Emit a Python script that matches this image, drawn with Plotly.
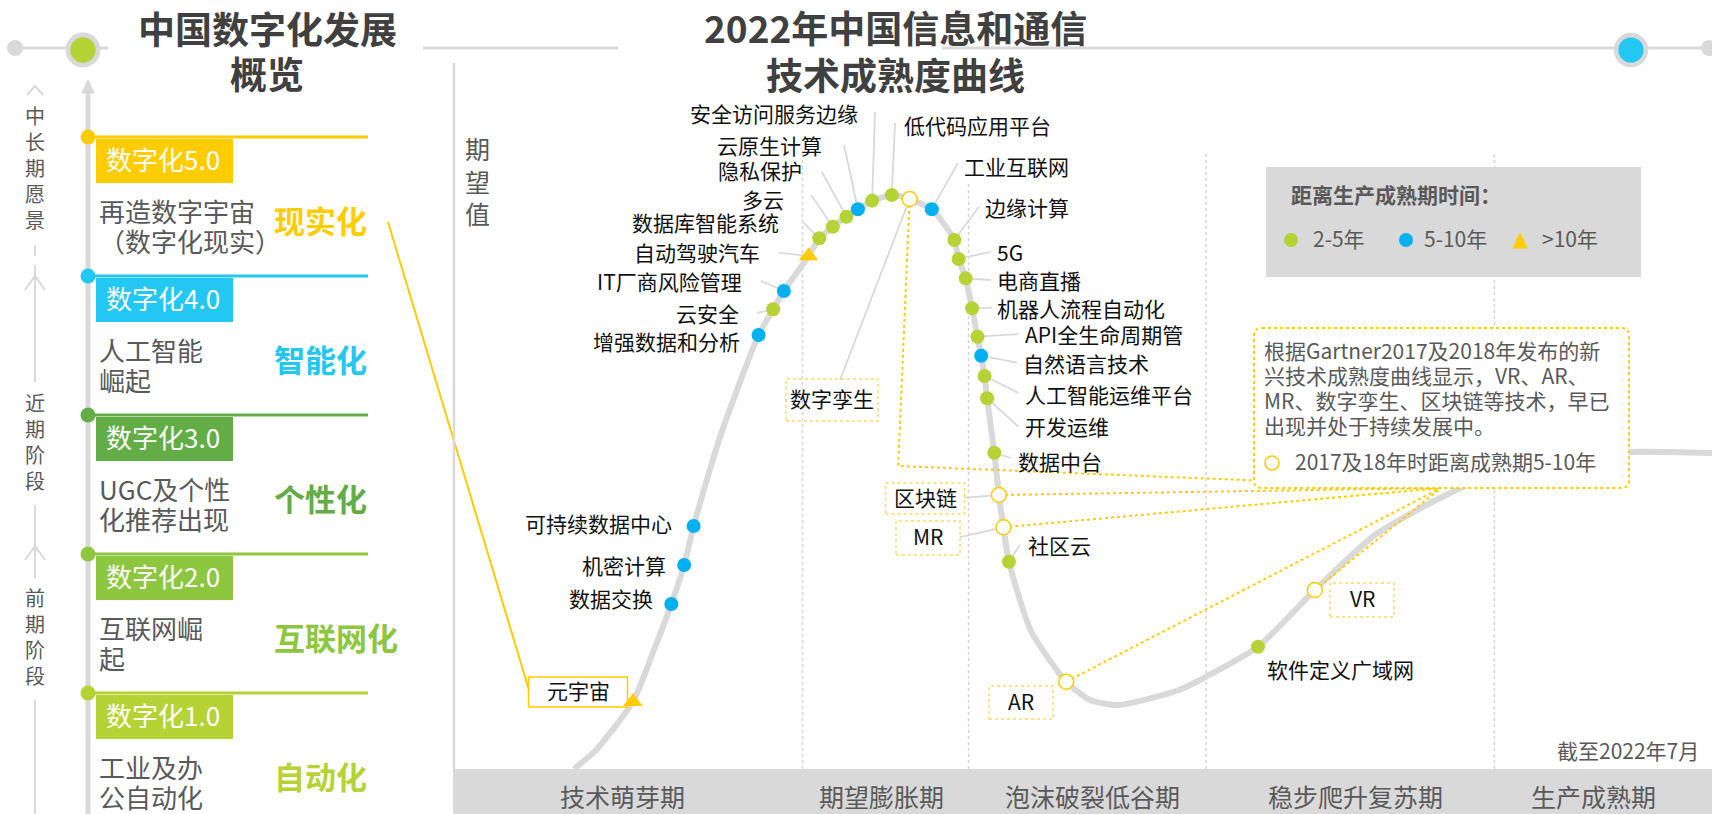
import plotly.graph_objects as go

W, H = 1712, 814
FONT = "Noto Sans CJK SC, Microsoft YaHei, sans-serif"
GRAY = "#d9d9d9"
TXT = "#595959"
DARK = "#111111"
YEL = "#ffcc00"

# ---------------- data ----------------
# Hype-cycle curve: x = time to maturity axis (0-100), y = expectation (0-100)
curve_x = [9.61, 11.36, 14.29, 15.81, 17.34, 18.36, 19.11, 21.21, 24.27, 25.43, 26.28, 28.24,
           29.09, 30.17, 31.25, 32.16, 33.29, 34.85, 36.27, 38.03, 39.82, 40.16, 40.72, 41.23,
           41.66, 41.95, 42.22, 42.42, 42.99, 43.36, 43.72, 44.16, 45.91, 48.71, 50.60, 52.87,
           57.66, 59.33, 63.94, 68.45, 73.23, 78.08, 82.37, 87.93, 93.41, 100.0]
curve_y = [0.0, 2.69, 9.53, 16.15, 23.37, 28.90, 34.42, 47.03, 61.47, 65.11, 67.71, 72.66,
           75.17, 76.81, 78.23, 79.28, 80.50, 81.30, 80.74, 79.28, 74.93, 72.24, 69.50, 65.25,
           61.23, 58.54, 55.67, 52.51, 44.80, 38.81, 34.24, 29.36, 19.55, 12.37, 9.77, 9.07,
           11.19, 12.61, 17.32, 25.35, 33.14, 38.10, 41.64, 44.05, 44.90, 44.76]

tech_names = ["元宇宙", "数据交换", "机密计算", "可持续数据中心", "增强数据和分析", "云安全",
              "IT厂商风险管理", "自动驾驶汽车", "数据库智能系统", "多云", "隐私保护", "云原生计算",
              "安全访问服务边缘", "低代码应用平台", "数字孪生", "工业互联网", "边缘计算", "5G",
              "电商直播", "机器人流程自动化", "API全生命周期管", "自然语言技术", "人工智能运维平台",
              "开发运维", "数据中台", "区块链", "MR", "社区云", "AR", "软件定义广域网", "VR"]
tech_x = [14.29, 17.34, 18.36, 19.11, 24.27, 25.43, 26.28, 28.24, 29.09, 30.17, 31.25, 32.16,
          33.29, 34.85, 36.27, 38.03, 39.82, 40.16, 40.72, 41.23, 41.66, 41.95, 42.22, 42.42,
          42.99, 43.36, 43.72, 44.16, 48.71, 63.94, 68.45]
tech_y = [9.53, 23.37, 28.90, 34.42, 61.47, 65.11, 67.71, 72.66, 75.17, 76.81, 78.23, 79.28,
          80.50, 81.30, 80.74, 79.28, 74.93, 72.24, 69.50, 65.25, 61.23, 58.54, 55.67, 52.51,
          44.80, 38.81, 34.24, 29.36, 12.37, 17.32, 25.35]
tech_cat = [">10年", "5-10年", "5-10年", "5-10年", "5-10年", "2-5年",
            "5-10年", ">10年", "2-5年", "2-5年", "2-5年", "5-10年",
            "2-5年", "2-5年", "2017/18", "5-10年", "2-5年", "2-5年",
            "2-5年", "2-5年", "2-5年", "5-10年", "2-5年",
            "2-5年", "2-5年", "2017/18", "2017/18", "2-5年", "2017/18", "2-5年", "2017/18"]

phase_names = ["技术萌芽期", "期望膨胀期", "泡沫破裂低谷期", "稳步爬升复苏期", "生产成熟期"]
phase_bounds = [27.76, 40.95, 59.81, 82.72]
phase_label_x = [13.5, 34.0, 50.83, 71.72, 90.55]

stage_names = ["数字化5.0", "数字化4.0", "数字化3.0", "数字化2.0", "数字化1.0"]
stage_desc = [["再造数字宇宙", "（数字化现实）"], ["人工智能", "崛起"], ["UGC及个性", "化推荐出现"],
              ["互联网崛", "起"], ["工业及办", "公自动化"]]
stage_tags = ["现实化", "智能化", "个性化", "互联网化", "自动化"]
stage_colors = ["#ffcc00", "#22c7f2", "#63ad46", "#8dc63f", "#b5d334"]

note_lines = ["根据Gartner2017及2018年发布的新", "兴技术成熟度曲线显示，VR、AR、",
              "MR、数字孪生、区块链等技术，早已", "出现并处于持续发展中。"]

# ---------------- label layout ----------------
LBL = {
    "元宇宙": dict(x=9.93, y=10.91, a="center", box=(99, 30, "solid")),
    "数据交换": dict(x=16.04, y=23.94, a="right"),
    "机密计算": dict(x=17.05, y=28.61, a="right"),
    "可持续数据中心": dict(x=17.59, y=34.56, a="right"),
    "增强数据和分析": dict(x=22.99, y=60.34, a="right"),
    "云安全": dict(x=22.85, y=64.31, a="right", lead=(24.15, 64.59)),
    "IT厂商风险管理": dict(x=23.08, y=68.84, a="right", lead=(24.44, 69.16)),
    "自动驾驶汽车": dict(x=24.54, y=72.95, a="right", lead=(25.89, 73.13)),
    "数据库智能系统": dict(x=26.05, y=77.20, a="right", lead=(27.76, 77.52)),
    "多云": dict(x=26.48, y=80.45, a="right", lead=(28.44, 81.30)),
    "隐私保护": dict(x=27.88, y=84.60, a="right", lead=(29.29, 84.60)),
    "云原生计算": dict(x=29.47, y=88.14, a="right", lead=(31.06, 88.39)),
    "安全访问服务边缘": dict(x=32.33, y=92.63, a="right", lead=(33.52, 93.06)),
    "低代码应用平台": dict(x=35.66, y=90.93, a="left", lead=(35.11, 91.50)),
    "数字孪生": dict(x=30.10, y=52.27, a="center", box=(92, 42, "dot"), lead=(30.74, 55.10)),
    "工业互联网": dict(x=40.43, y=85.13, a="left", lead=(40.11, 85.84)),
    "边缘计算": dict(x=42.10, y=79.32, a="left", lead=(41.78, 79.65)),
    "5G": dict(x=43.08, y=72.95, a="left", lead=(42.71, 73.27)),
    "电商直播": dict(x=43.08, y=69.02, a="left", lead=(42.71, 69.26)),
    "机器人流程自动化": dict(x=43.08, y=65.01, a="left", lead=(42.80, 65.34)),
    "API全生命周期管": dict(x=45.27, y=61.33, a="left", lead=(44.92, 61.61)),
    "自然语言技术": dict(x=45.15, y=57.22, a="left", lead=(44.78, 57.55)),
    "人工智能运维平台": dict(x=45.27, y=52.83, a="left", lead=(44.92, 53.26)),
    "开发运维": dict(x=45.27, y=48.30, a="left", lead=(44.92, 48.48)),
    "数据中台": dict(x=44.69, y=43.39, a="left", lead=(44.30, 44.05)),
    "区块链": dict(x=37.49, y=38.31, a="center", box=(79, 31, "dot"), lead=(40.63, 38.39)),
    "MR": dict(x=37.73, y=32.72, a="center", box=(64, 34, "dot"), lead=(40.27, 32.86)),
    "社区云": dict(x=45.49, y=31.49, a="left", lead=(45.03, 31.73)),
    "AR": dict(x=45.12, y=9.42, a="center", box=(64, 33, "dot")),
    "软件定义广域网": dict(x=64.50, y=13.92, a="left"),
    "VR": dict(x=72.20, y=23.94, a="center", box=(64, 34, "dot")),
}
CONVERGE = (78.47, 39.80)
TWIN_BEND = (35.36, 42.92)

CAT_STYLE = {
    "2-5年": dict(symbol="circle", color="#b5d334", size=14, line=dict(width=0)),
    "5-10年": dict(symbol="circle", color="#00b0f0", size=14, line=dict(width=0)),
    ">10年": dict(symbol="triangle-up", color=YEL, size=17, line=dict(width=0)),
    "2017/18": dict(symbol="circle", color="white", size=15, line=dict(width=1.5, color=YEL)),
}


def X(p):
    return p / W


def Y(p):
    return 1 - p / H


def ys(size):
    # small upward correction for CJK glyph baseline
    return round(size * 0.11, 1)


shapes, annos = [], []


def pline(x0, y0, x1, y1, color=GRAY, width=2, dash=None, layer="above"):
    ln = dict(color=color, width=width)
    if dash:
        ln["dash"] = dash
    shapes.append(dict(type="line", xref="paper", yref="paper", x0=X(x0), y0=Y(y0),
                       x1=X(x1), y1=Y(y1), line=ln, layer=layer))


def prect(x0, y0, x1, y1, fill, layer="above"):
    shapes.append(dict(type="rect", xref="paper", yref="paper", x0=X(x0), y0=Y(y1),
                       x1=X(x1), y1=Y(y0), fillcolor=fill, line=dict(width=0), layer=layer))


def pcircle(cx, cy, r, fill, line=None):
    shapes.append(dict(type="circle", xref="paper", yref="paper", x0=X(cx - r), x1=X(cx + r),
                       y0=Y(cy + r), y1=Y(cy - r), fillcolor=fill,
                       line=line or dict(width=0), layer="above"))


def ppath(pts, color=GRAY, width=2, fill=None, close=False):
    d = "M " + " L ".join(f"{X(a):.5f},{Y(b):.5f}" for a, b in pts)
    if close:
        d += " Z"
    shapes.append(dict(type="path", xref="paper", yref="paper", path=d,
                       fillcolor=fill if fill else "rgba(0,0,0,0)",
                       line=dict(color=color, width=width), layer="above"))


def ptext(x, y, s, size, color, anchor="center", bold=False):
    annos.append(dict(xref="paper", yref="paper", x=X(x), y=Y(y),
                      text=f"<b>{s}</b>" if bold else s, showarrow=False,
                      xanchor=anchor, yanchor="middle", yshift=ys(size),
                      font=dict(family=FONT, size=size, color=color)))


# ---------------- top decorations / titles ----------------
pline(15, 48, 108, 48, width=3)
pline(423, 48, 618, 48, width=3)
pline(942, 48, 1709, 48, width=3)
pcircle(15, 48, 8, GRAY)
pcircle(83, 50, 17.5, GRAY)
pcircle(83, 50, 12.7, "#b5d334")
pcircle(1631, 50, 17.3, GRAY)
pcircle(1631, 50, 12.6, "#22c7f2")
pcircle(1709, 48, 8, GRAY)
ptext(267, 32, "中国数字化发展", 37, "#404040", bold=True)
ptext(267, 77, "概览", 37, "#404040", bold=True)
ptext(896, 31, "2022年中国信息和通信", 37, "#404040", bold=True)
ptext(896, 78, "技术成熟度曲线", 37, "#404040", bold=True)

# ---------------- left panel ----------------
ppath([(27, 95), (35, 86), (43, 95)])
ptext(35, 170, "中<br>长<br>期<br>愿<br>景", 20, TXT)
pline(35, 245, 35, 256)
pline(35, 265, 35, 382)
ppath([(25, 290), (35, 276), (45, 290)])
ptext(35, 443.5, "近<br>期<br>阶<br>段", 20, TXT)
pline(35, 505, 35, 578)
ppath([(25, 560), (35, 546), (45, 560)])
ptext(35, 638.5, "前<br>期<br>阶<br>段", 20, TXT)
pline(35, 700, 35, 814)

pline(88, 90, 88, 814, width=5)
ppath([(82, 93), (88, 80), (94, 93)], color=GRAY, width=1, fill=GRAY, close=True)

for i, name in enumerate(stage_names):
    ly = 137 + i * 139
    c = stage_colors[i]
    pline(88, ly, 368, ly, color=c, width=3)
    pcircle(88, ly, 7.5, c)
    prect(96, ly + 2, 233, ly + 46, c)
    ptext(104, ly + 24, name, 26, "white", anchor="left")
    ptext(97, ly + 76, stage_desc[i][0], 26, TXT, anchor="left")
    ptext(97, ly + 106, stage_desc[i][1], 26, TXT, anchor="left")
    ptext(272, ly + 86, stage_tags[i], 31, c, anchor="left", bold=True)

# connection 现实化 -> 元宇宙
pline(388, 222, 529, 690, color=YEL, width=2)

# ---------------- hype-cycle panel frame ----------------
pline(454, 63, 454, 769, width=2.5)
prect(453, 769, 1712, 814, GRAY, layer="below")
ptext(477.5, 183, "期<br>望<br>值", 25, TXT)
ptext(1701, 752, "截至2022年7月", 21, TXT, anchor="right")

sep_top = [152, 182, 152, 152]
for b, t in zip(phase_bounds, sep_top):
    shapes.append(dict(type="line", xref="x", yref="paper", x0=b, x1=b, y0=Y(769), y1=Y(t),
                       line=dict(color="#d4d4d4", width=1.5, dash="dot"), layer="below"))
for nm, lx in zip(phase_names, phase_label_x):
    annos.append(dict(xref="x", yref="paper", x=lx, y=Y(799), text=nm, showarrow=False,
                      xanchor="center", yanchor="middle", yshift=ys(25),
                      font=dict(family=FONT, size=25, color=TXT)))

# legend box
prect(1266, 167, 1641, 277, GRAY)
ptext(1289, 196, "距离生产成熟期时间：", 21, TXT, anchor="left", bold=True)
pcircle(1291, 240, 7, "#b5d334")
ptext(1311, 240, "2-5年", 21, TXT, anchor="left")
pcircle(1406, 240, 7, "#00b0f0")
ptext(1422, 240, "5-10年", 21, TXT, anchor="left")
ppath([(1513, 248), (1527, 248), (1520, 233)], color=YEL, width=1, fill=YEL, close=True)
ptext(1540, 240, "&gt;10年", 21, TXT, anchor="left")

# note box (rounded, dotted)
x0, y0, x1, y1, r = 1254, 328, 1629, 488, 8
pts = (f"M {X(x0 + r)},{Y(y0)} L {X(x1 - r)},{Y(y0)} Q {X(x1)},{Y(y0)} {X(x1)},{Y(y0 + r)} "
       f"L {X(x1)},{Y(y1 - r)} Q {X(x1)},{Y(y1)} {X(x1 - r)},{Y(y1)} "
       f"L {X(x0 + r)},{Y(y1)} Q {X(x0)},{Y(y1)} {X(x0)},{Y(y1 - r)} "
       f"L {X(x0)},{Y(y0 + r)} Q {X(x0)},{Y(y0)} {X(x0 + r)},{Y(y0)} Z")
shapes.append(dict(type="path", xref="paper", yref="paper", path=pts, fillcolor="white",
                   line=dict(color=YEL, width=2, dash="dot"), layer="above"))
for k, s in enumerate(note_lines):
    ptext(1262, 352 + 25 * k, s, 21, TXT, anchor="left")
pcircle(1272, 463, 7, "white", line=dict(color=YEL, width=1.5))
ptext(1293, 463, "2017及18年时距离成熟期5-10年", 21, TXT, anchor="left")

# ---------------- traces ----------------
fig = go.Figure()
fig.add_trace(go.Scatter(x=curve_x, y=curve_y, mode="lines",
                         line=dict(color=GRAY, width=6, shape="spline", smoothing=0.6),
                         hoverinfo="skip"))

pos = {n: (tx, ty) for n, tx, ty in zip(tech_names, tech_x, tech_y)}
lx, ly = [], []
for n, spec in LBL.items():
    if "lead" in spec:
        lx += [spec["lead"][0], pos[n][0], None]
        ly += [spec["lead"][1], pos[n][1], None]
fig.add_trace(go.Scatter(x=lx, y=ly, mode="lines", line=dict(color=GRAY, width=1.8),
                         hoverinfo="skip"))

dx, dy = [], []
for n in ["数字孪生", "区块链", "MR", "AR", "VR"]:
    path_pts = [pos[n]]
    if n == "数字孪生":
        path_pts.append(TWIN_BEND)
    path_pts.append(CONVERGE)
    dx += [p[0] for p in path_pts] + [None]
    dy += [p[1] for p in path_pts] + [None]
fig.add_trace(go.Scatter(x=dx, y=dy, mode="lines", line=dict(color=YEL, width=2, dash="dot"),
                         hoverinfo="skip"))

for cat, st in CAT_STYLE.items():
    idx = [i for i, c in enumerate(tech_cat) if c == cat]
    fig.add_trace(go.Scatter(
        x=[tech_x[i] for i in idx], y=[tech_y[i] for i in idx], mode="markers",
        marker=dict(symbol=st["symbol"], color=st["color"], size=st["size"], line=st["line"]),
        text=[tech_names[i] for i in idx], hoverinfo="text", cliponaxis=False, name=cat))

for n, spec in LBL.items():
    annos.append(dict(xref="x", yref="y", x=spec["x"], y=spec["y"], text=n, showarrow=False,
                      xanchor=spec["a"], yanchor="middle", yshift=ys(21) - 0.5,
                      font=dict(family=FONT, size=21, color=DARK)))
    if "box" in spec:
        w, h, style = spec["box"]
        ln = dict(color=YEL, width=1.5) if style == "solid" else dict(color="#ffd966", width=1.5, dash="dot")
        shapes.append(dict(type="rect", xref="x", yref="y", xsizemode="pixel", ysizemode="pixel",
                           xanchor=spec["x"], yanchor=spec["y"], x0=-w / 2, x1=w / 2,
                           y0=-h / 2, y1=h / 2, line=ln, fillcolor="rgba(0,0,0,0)", layer="above"))

fig.update_layout(
    width=W, height=H, margin=dict(l=0, r=0, t=0, b=0),
    paper_bgcolor="white", plot_bgcolor="rgba(0,0,0,0)", showlegend=False,
    xaxis=dict(range=[0, 100], domain=[453 / W, 1], visible=False, fixedrange=True),
    yaxis=dict(range=[0, 100], domain=[1 - 769 / H, 1 - 63 / H], visible=False, fixedrange=True),
    shapes=shapes, annotations=annos,
    font=dict(family=FONT),
)

fig.write_html("out.html")
